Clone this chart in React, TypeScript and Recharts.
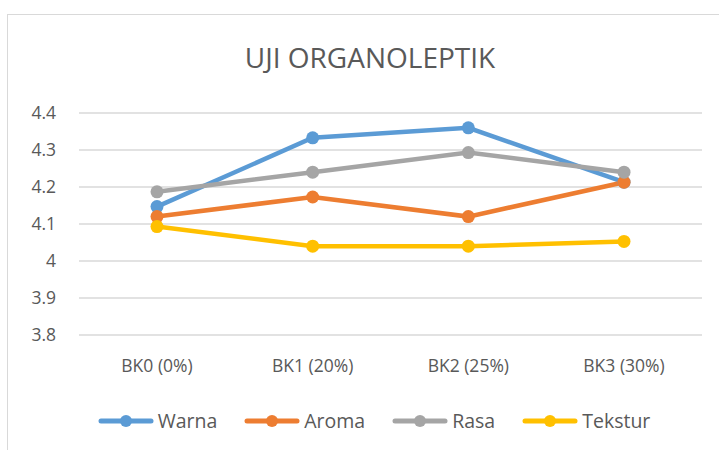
import { LineChart, Line, XAxis, YAxis, CartesianGrid } from "recharts"

const categories = ["BK0 (0%)", "BK1 (20%)", "BK2 (25%)", "BK3 (30%)"]
const warna = [4.147, 4.333, 4.36, 4.213]
const aroma = [4.12, 4.173, 4.12, 4.213]
const rasa = [4.187, 4.24, 4.293, 4.24]
const tekstur = [4.093, 4.04, 4.04, 4.053]
const yTicks = [3.8, 3.9, 4, 4.1, 4.2, 4.3, 4.4]

const series = [
  { key: "Warna", color: "#5B9BD5" },
  { key: "Aroma", color: "#ED7D31" },
  { key: "Rasa", color: "#A5A5A5" },
  { key: "Tekstur", color: "#FFC000" },
]

const data = categories.map((c, i) => ({
  name: c,
  Warna: warna[i],
  Aroma: aroma[i],
  Rasa: rasa[i],
  Tekstur: tekstur[i],
}))

const FONT = "'Open Sans', sans-serif"

function LegendBox() {
  return (
    <div style={{ display: "flex", justifyContent: "center", gap: 27, fontFamily: FONT, fontSize: 19.5, color: "#595959" }}>
      {series.map(s => (
        <div key={s.key} style={{ display: "flex", alignItems: "center" }}>
          <svg width={56} height={16}>
            <line x1={3} y1={8} x2={53} y2={8} stroke={s.color} strokeWidth={5} strokeLinecap="round" />
            <circle cx={28} cy={8} r={6} fill={s.color} />
          </svg>
          <span style={{ marginLeft: 4 }}>{s.key}</span>
        </div>
      ))}
    </div>
  )
}

export default function App() {
  return (
    <div style={{ position: "absolute", left: 0, top: 0, width: 719, height: 450, overflow: "hidden", background: "#fff" }}>
      {/* bingkai chart ala Excel */}
      <div style={{ position: "absolute", left: 7, top: 14, width: 740, height: 460, border: "1px solid #d9d9d9" }} />
      <div style={{
        position: "absolute", top: 43, left: 0, width: 740, textAlign: "center", lineHeight: 1,
        fontFamily: FONT, fontSize: 28, color: "#595959"
      }}>
        UJI ORGANOLEPTIK
      </div>
      <div style={{ position: "absolute", left: 0, top: 0 }}>
        <LineChart width={719} height={450} data={data} margin={{ top: 113, right: 17, left: 0, bottom: 85 }}>
          <CartesianGrid vertical={false} stroke="#d9d9d9" strokeWidth={1.5} />
          <XAxis
            dataKey="name"
            height={30}
            axisLine={false}
            tickLine={false}
            tickSize={0}
            tickMargin={25}
            padding={{ left: 78, right: 78 }}
            interval={0}
            tick={{ fill: "#595959", fontSize: 17.5, fontFamily: FONT }}
          />
          <YAxis
            width={79}
            domain={[3.8, 4.4]}
            ticks={yTicks}
            axisLine={false}
            tickLine={false}
            tickSize={0}
            tickMargin={23}
            tick={{ fill: "#595959", fontSize: 17.5, fontFamily: FONT }}
          />
          {series.map(s => (
            <Line
              key={s.key}
              type="linear"
              dataKey={s.key}
              stroke={s.color}
              strokeWidth={4.5}
              dot={{ r: 6.5, fill: s.color, stroke: s.color, strokeWidth: 0 }}
              activeDot={false}
              isAnimationActive={false}
            />
          ))}
        </LineChart>
      </div>
      <div style={{ position: "absolute", left: 0, top: 407, width: 748 }}>
        <LegendBox />
      </div>
    </div>
  )
}
